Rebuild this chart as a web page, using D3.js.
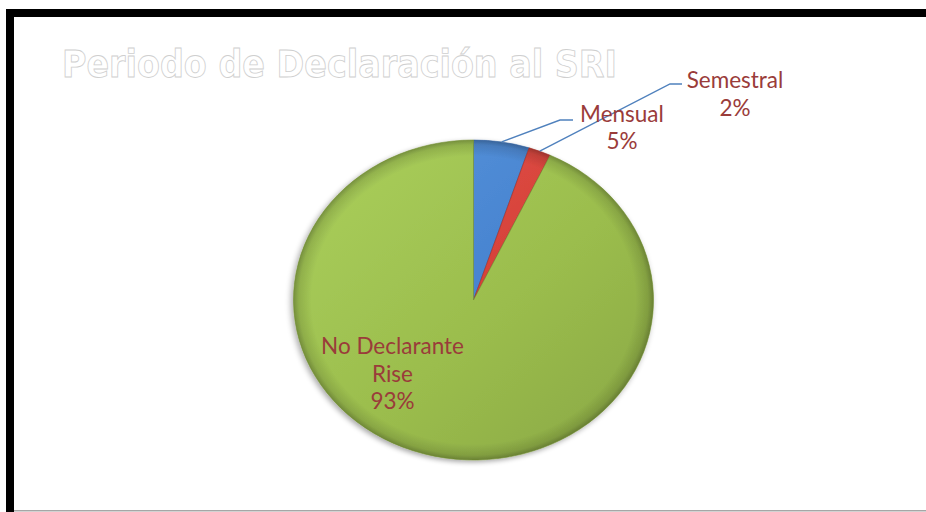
<!DOCTYPE html>
<html>
<head>
<meta charset="utf-8">
<script src="https://cdn.jsdelivr.net/npm/d3@7"></script>
<style>
  html, body { margin: 0; padding: 0; background: #fff; }
  svg { display: block; }
</style>
</head>
<body>
<svg id="chart" width="926" height="512"></svg>
<script>
// Declaration period shares (percent)
const categories = ["Mensual", "Semestral", "No Declarante Rise"];
const values = [5, 2, 93];
const labelLines = [["Mensual", "5%"], ["Semestral", "2%"], ["No Declarante", "Rise", "93%"]];
const titleText = "Periodo de Declaración al SRI";

// Layout
const W = 926, H = 512;
const cx = 473.5, cy = 300, rx = 180, ry = 160;

// Label blocks: centre x and first baseline; leader elbow given for outside labels
const labelLayout = [
  { x: 622, y: 121.5, lead: { elbowX: 560, endX: 573, y: 120 } },
  { x: 735, y: 88,    lead: { elbowX: 670, endX: 682, y: 84 } },
  { x: 392.5, y: 354, lead: null }
];

const fills = [
  { light: "#5b97dc", base: "#4581cf", dark: "#2f5f9e" },
  { light: "#e45a52", base: "#d53e36", dark: "#9c2a24" },
  { light: "#abd05c", base: "#9bbd4d", dark: "#6f8c2e" }
];

const svg = d3.select("#chart");
const defs = svg.append("defs");

// Frame: thick black top and left, thin grey bottom
svg.append("rect").attr("x", 6).attr("y", 9).attr("width", W - 6).attr("height", 8).attr("fill", "#000");
svg.append("rect").attr("x", 6).attr("y", 9).attr("width", 8).attr("height", H - 9).attr("fill", "#000");
svg.append("rect").attr("x", 14).attr("y", 510).attr("width", W - 14).attr("height", 1.5).attr("fill", "#a6a6a6");

// Title: outlined white lettering
svg.append("text")
  .attr("x", 62).attr("y", 77)
  .attr("textLength", 555).attr("lengthAdjust", "spacingAndGlyphs")
  .attr("font-family", "'DejaVu Sans Condensed', 'DejaVu Sans', sans-serif")
  .attr("font-weight", "bold")
  .attr("font-size", 37)
  .attr("fill", "#ffffff")
  .attr("stroke", "#cfcfcf")
  .attr("stroke-width", 0.8)
  .text(titleText);

// Gradients per slice
fills.forEach((f, i) => {
  const lg = defs.append("linearGradient").attr("id", "lin" + i)
    .attr("gradientUnits", "userSpaceOnUse")
    .attr("x1", -rx).attr("y1", -rx).attr("x2", rx).attr("y2", rx);
  lg.append("stop").attr("offset", "0%").attr("stop-color", f.light);
  lg.append("stop").attr("offset", "55%").attr("stop-color", f.base);
  lg.append("stop").attr("offset", "100%").attr("stop-color", d3.color(f.base).darker(0.35));
});
const rim = defs.append("radialGradient").attr("id", "rim")
  .attr("gradientUnits", "userSpaceOnUse").attr("cx", 0).attr("cy", 0).attr("r", rx);
rim.append("stop").attr("offset", "0%").attr("stop-color", "#000").attr("stop-opacity", 0);
rim.append("stop").attr("offset", "90%").attr("stop-color", "#000").attr("stop-opacity", 0);
rim.append("stop").attr("offset", "97%").attr("stop-color", "#000").attr("stop-opacity", 0.12);
rim.append("stop").attr("offset", "100%").attr("stop-color", "#000").attr("stop-opacity", 0.28);

const shadow = defs.append("filter").attr("id", "shadow")
  .attr("x", "-20%").attr("y", "-20%").attr("width", "140%").attr("height", "140%");
shadow.append("feGaussianBlur").attr("in", "SourceAlpha").attr("stdDeviation", 3).attr("result", "b");
shadow.append("feOffset").attr("in", "b").attr("dx", -2).attr("dy", 2).attr("result", "o");
shadow.append("feComponentTransfer").attr("in", "o").attr("result", "s")
  .append("feFuncA").attr("type", "linear").attr("slope", 0.35);
const merge = shadow.append("feMerge");
merge.append("feMergeNode").attr("in", "s");
merge.append("feMergeNode").attr("in", "SourceGraphic");

const pie = d3.pie().sort(null).value(d => d)(values);
const arc = d3.arc().innerRadius(0).outerRadius(rx);

// Pie drawn on a circle and squashed vertically into an ellipse
const g = svg.append("g")
  .attr("transform", `translate(${cx},${cy}) scale(1,${ry / rx})`)
  .attr("filter", "url(#shadow)");

const slices = g.selectAll("g.slice").data(pie).join("g").attr("class", "slice");
slices.append("path").attr("d", arc).attr("fill", (d, i) => `url(#lin${i})`);
slices.append("path").attr("d", arc).attr("fill", "url(#rim)");
slices.append("path").attr("d", arc)
  .attr("fill", "none")
  .attr("stroke", (d, i) => d3.color(fills[i].dark).copy({ opacity: 0.55 }))
  .attr("stroke-width", 1)
  .attr("vector-effect", "non-scaling-stroke");

// Point on the ellipse edge at a given pie angle
const edgePoint = a => [cx + rx * Math.sin(a), cy - ry * Math.cos(a)];

// Leader lines
pie.forEach((d, i) => {
  const L = labelLayout[i].lead;
  if (!L) return;
  const p = edgePoint((d.startAngle + d.endAngle) / 2);
  svg.append("polyline")
    .attr("points", [p, [L.elbowX, L.y], [L.endX, L.y]].map(q => q.join(",")).join(" "))
    .attr("fill", "none")
    .attr("stroke", "#4f81bd")
    .attr("stroke-width", 1.4);
});

// Data labels
labelLayout.forEach((L, i) => {
  const t = svg.append("text")
    .attr("text-anchor", "middle")
    .attr("font-family", "Lato, 'Open Sans', sans-serif")
    .attr("font-size", 22.5)
    .attr("fill", "#9a3c3a");
  labelLines[i].forEach((line, j) => {
    t.append("tspan").attr("x", L.x).attr("y", L.y + j * 27.5).text(line);
  });
});
</script>
</body>
</html>
